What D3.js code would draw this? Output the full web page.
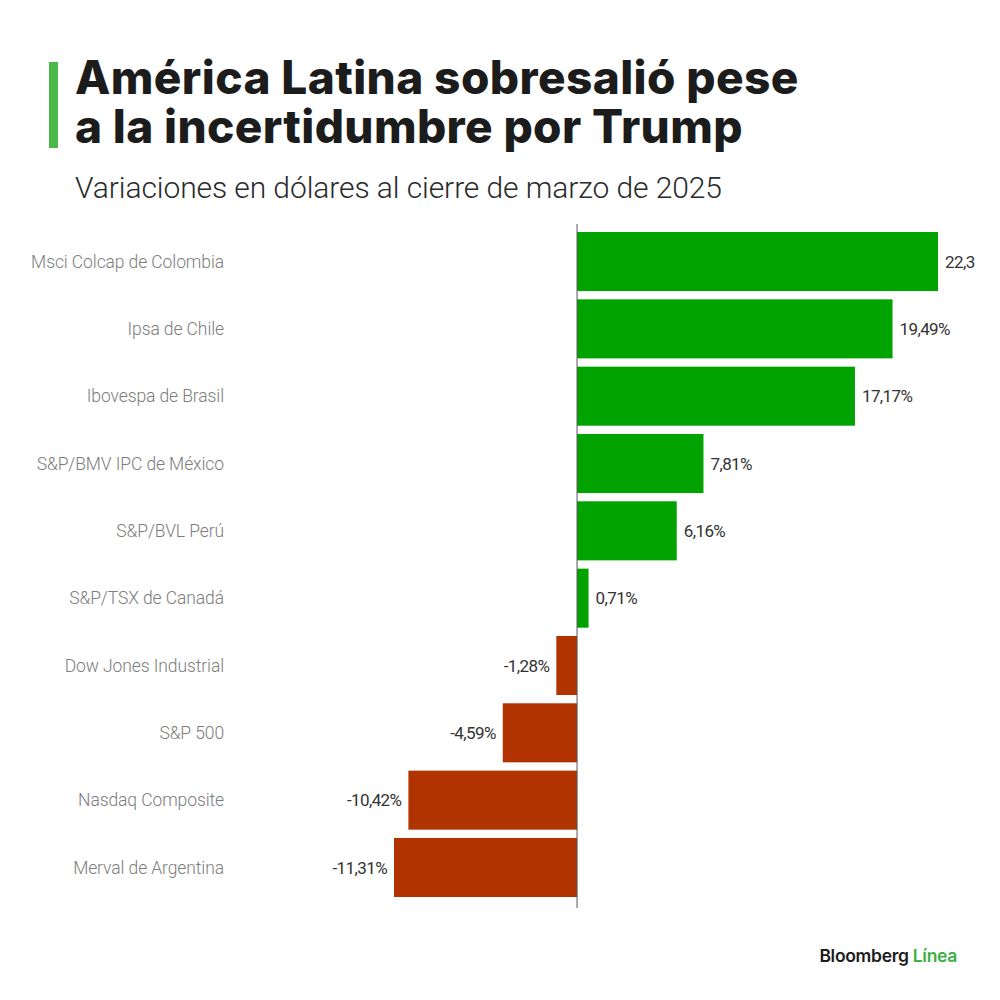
<!DOCTYPE html>
<html>
<head>
<meta charset="utf-8">
<script src="https://cdn.jsdelivr.net/npm/d3@7"></script>
<style>
  body { margin: 0; background: #fff; }
  svg { display: block; }
</style>
</head>
<body>
<svg id="chart" width="1000" height="1000"></svg>
<script>
// Data
const categories = [
  "Msci Colcap de Colombia",
  "Ipsa de Chile",
  "Ibovespa de Brasil",
  "S&P/BMV IPC de México",
  "S&P/BVL Perú",
  "S&P/TSX de Canadá",
  "Dow Jones Industrial",
  "S&P 500",
  "Nasdaq Composite",
  "Merval de Argentina"
];
const values = [22.3, 19.49, 17.17, 7.81, 6.16, 0.71, -1.28, -4.59, -10.42, -11.31];
const valueLabels = ["22,3", "19,49%", "17,17%", "7,81%", "6,16%", "0,71%", "-1,28%", "-4,59%", "-10,42%", "-11,31%"];

const titleLines = ["América Latina sobresalió pese", "a la incertidumbre por Trump"];
const subtitle = "Variaciones en dólares al cierre de marzo de 2025";

// Colors
const colors = {
  up: "#00a300",
  down: "#b03300",
  title: "#1c1c1c",
  sub: "#2a2a2a",
  label: "#7c7c7c",
  value: "#333333",
  axis: "#555555",
  accent: "#4cb84a"
};

const svg = d3.select("#chart");

// fit a text to a given width by tweaking letter spacing
function fitWidth(sel, target, base) {
  sel.each(function() {
    const node = this;
    const n = node.textContent.length;
    const w = node.getComputedTextLength();
    if (w > 0 && n > 1) {
      d3.select(node).attr("letter-spacing", base + (target - w) / (n - 1));
    }
  });
}

// Title block
svg.append("rect")
  .attr("x", 49).attr("y", 62)
  .attr("width", 9).attr("height", 86)
  .attr("fill", colors.accent);

const titleWidths = [722, 666];
svg.selectAll("text.title")
  .data(titleLines)
  .enter().append("text")
  .attr("class", "title")
  .attr("x", 75)
  .attr("y", (d, i) => 94 + i * 49)
  .attr("font-family", "Inter, Roboto, sans-serif")
  .attr("font-weight", 800)
  .attr("font-size", 46)
  .attr("letter-spacing", -1.5)
  .attr("fill", colors.title)
  .text(d => d)
  .each(function(d, i) { fitWidth(d3.select(this), titleWidths[i], -1.5); });

const sub = svg.append("text")
  .attr("x", 75).attr("y", 198)
  .attr("font-family", "Roboto, sans-serif")
  .attr("font-weight", 300)
  .attr("font-size", 30)
  .attr("fill", colors.sub)
  .text(subtitle);
fitWidth(sub, 647, 0);

// Scales
const x = d3.scaleLinear()
  .domain([d3.min(values), d3.max(values)])
  .range([394, 938]);

const y = d3.scaleBand()
  .domain(categories)
  .range([232, 897])
  .paddingInner(0.123)
  .paddingOuter(0);

const data = categories.map((c, i) => ({ name: c, value: values[i], label: valueLabels[i] }));

// Bars
svg.selectAll("rect.bar")
  .data(data)
  .enter().append("rect")
  .attr("class", "bar")
  .attr("x", d => x(Math.min(0, d.value)))
  .attr("y", d => y(d.name))
  .attr("width", d => Math.abs(x(d.value) - x(0)))
  .attr("height", y.bandwidth())
  .attr("fill", d => d.value >= 0 ? colors.up : colors.down);

// Zero line
svg.append("line")
  .attr("x1", x(0)).attr("x2", x(0))
  .attr("y1", 224).attr("y2", 908)
  .attr("stroke", colors.axis)
  .attr("stroke-width", 1);

// Category labels
svg.selectAll("text.cat")
  .data(data)
  .enter().append("text")
  .attr("class", "cat")
  .attr("x", 224)
  .attr("y", d => y(d.name) + y.bandwidth() / 2)
  .attr("dy", "0.36em")
  .attr("text-anchor", "end")
  .attr("font-family", "Roboto, sans-serif")
  .attr("font-weight", 300)
  .attr("font-size", 17.5)
  .attr("letter-spacing", -0.1)
  .attr("fill", colors.label)
  .text(d => d.name);

// Value labels
svg.selectAll("text.val")
  .data(data)
  .enter().append("text")
  .attr("class", "val")
  .attr("x", d => d.value >= 0 ? x(d.value) + 7 : x(d.value) - 7)
  .attr("y", d => y(d.name) + y.bandwidth() / 2)
  .attr("dy", "0.36em")
  .attr("text-anchor", d => d.value >= 0 ? "start" : "end")
  .attr("font-family", "Roboto, sans-serif")
  .attr("font-size", 17)
  .attr("letter-spacing", -0.6)
  .attr("fill", colors.value)
  .text(d => d.label);

// Logo
const logo = svg.append("text")
  .attr("x", 957).attr("y", 962)
  .attr("text-anchor", "end")
  .attr("font-family", "Inter, Roboto, sans-serif")
  .attr("font-weight", 600)
  .attr("font-size", 17.5)
  .attr("letter-spacing", -0.3);
logo.append("tspan").attr("fill", "#1c1c1c").text("Bloomberg ");
logo.append("tspan").attr("fill", "#3cb043").text("Línea");
</script>
</body>
</html>
